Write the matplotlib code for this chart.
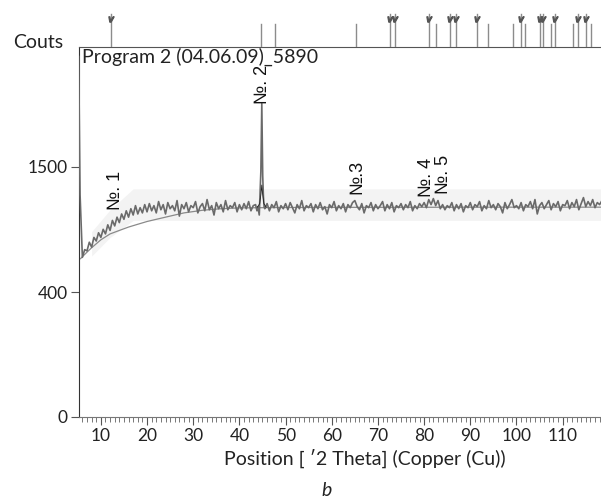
import numpy as np
import matplotlib
matplotlib.use('Agg')
import matplotlib.pyplot as plt

plt.rcParams['font.family'] = ['Lato', 'DejaVu Sans']

spike_x = [5.2, 5.3, 5.4]
spike_y = [3000, 2300, 1600]

seg1_x = np.arange(5.5, 43.51, 0.5)
seg1_y = [1200, 640, 700, 690, 760, 720, 800, 770, 840, 800,
          870, 830, 910, 860, 950, 900, 980, 930, 1010, 960,
          1040, 980, 1060, 1000, 1090, 1010, 1070, 1020, 1100, 1030,
          1110, 1040, 1090, 1020, 1130, 1050, 1100, 1010, 1120, 1060,
          1090, 1040, 1140, 990, 1100, 1060, 1120, 1030, 1090, 1070,
          1130, 1020, 1080, 1110, 1040, 1150, 1050, 1090, 1000, 1120,
          1060, 1100, 1030, 1140, 1050, 1090, 1070, 1120, 1030, 1100,
          1050, 1110, 1060, 1130, 1040, 1090, 1100]

peak_x = [43.8, 44.0, 44.3, 44.5, 44.65, 44.75, 44.85, 44.95, 45.05, 45.2, 45.35]
peak_y = [1040, 1080, 1000, 1250, 1450, 1900, 2300, 1800, 1400, 1180, 1080]

seg3_x = np.arange(45.5, 118.51, 0.5)
seg3_y = [1060, 1110, 1040, 1100, 1070, 1130, 1030, 1090, 1060, 1110,
          1050, 1120, 1070, 1020, 1100, 1060, 1140, 1040, 1090, 1070,
          1110, 1030, 1100, 1060, 1120, 1050, 1080, 1010, 1100, 1070,
          1130, 1040, 1090, 1060, 1110, 1030, 1100, 1070, 1120, 1140,
          1080, 1050, 1110, 1020, 1090, 1070, 1120, 1040, 1100, 1060,
          1090, 1130, 1040, 1100, 1060, 1120, 1030, 1090, 1070, 1110,
          1050, 1100, 1070, 1130, 1040, 1090, 1060, 1110, 1080, 1120,
          1070, 1150, 1100, 1160, 1090, 1140, 1060, 1100, 1050, 1090,
          1070, 1120, 1040, 1100, 1060, 1110, 1030, 1090, 1070, 1120,
          1050, 1100, 1080, 1130, 1040, 1090, 1060, 1140, 1070, 1100,
          1050, 1110, 1080, 1020, 1120, 1060, 1100, 1150, 1070, 1090,
          1060, 1120, 1040, 1100, 1080, 1130, 1060, 1150, 1010, 1090,
          1120, 1060, 1100, 1140, 1050, 1110, 1080, 1130, 1040, 1100,
          1090, 1140, 1060, 1120, 1080, 1150, 1050, 1110, 1170, 1080,
          1130, 1090, 1150, 1070, 1120, 1100, 1140]

# background curve
bg_x = [5.6, 6, 7, 8, 10, 12, 14, 16, 18, 20, 22, 25, 28, 32, 36, 40, 50, 60, 80, 100, 118.5]
bg_y = [630, 645, 680, 715, 780, 830, 860, 890, 915, 940, 960, 990, 1020, 1045, 1060, 1068, 1072, 1073, 1074, 1075, 1075]

# fitted profile of peak 2
prof_x = [43.9, 44.4, 44.7, 44.85, 45.0, 45.3, 45.8]
prof_y = [1075, 1110, 1220, 1300, 1220, 1110, 1075]

# reference sticks in the top strip
stick_pos = [12.2, 44.7, 47.7, 65.2, 72.6, 73.8, 81.0, 82.6, 85.5, 87.0, 91.4, 93.8,
             99.3, 101.0, 101.9, 105.1, 105.8, 107.4, 108.4, 112.2, 113.4, 115.0, 116.2]
stick_tall = [1, 0, 0, 0, 1, 1, 1, 0, 1, 1, 1, 0,
              0, 1, 0, 1, 1, 0, 1, 0, 1, 1, 0]

# peak labels
lab_text = ['№. 1', '№. 2', '№.3', '№. 4', '№. 5']
lab_x = [13.1, 45.1, 65.5, 80.5, 84.1]
lab_y = [1050, 2300, 1210, 1175, 1210]

yticks = [0, 400, 1500]
xticks = [10, 20, 30, 40, 50, 60, 70, 80, 90, 100, 110]

two_theta = np.concatenate([spike_x, seg1_x, peak_x, seg3_x])
counts = np.concatenate([spike_y, seg1_y, peak_y, seg3_y])

p = 0.528
fwd = lambda v: np.sign(v) * np.abs(v) ** p
inv = lambda v: np.sign(v) * np.abs(v) ** (1 / p)

fig = plt.figure(figsize=(6.01, 4.99), dpi=100)
ax = fig.add_axes([0.131, 0.165, 0.869, 0.740])
ax.set_yscale('function', functions=(fwd, inv))
ax.set_xlim(5.21, 118.3)
ax.set_ylim(0, 3145)

# faint shading behind the data
ax.fill_between([8, 12, 17, 118.3], [650, 800, 950, 950], [850, 1050, 1260, 1260],
                color='#f3f3f3', lw=0, zorder=0)
ax.plot(bg_x, bg_y, color='#8a8a8a', lw=0.9, zorder=2)
ax.plot(two_theta, counts, color='#6a6a6a', lw=1.2, zorder=3)
ax.plot(prof_x, prof_y, color='#222222', lw=0.6, zorder=4)

for t, x, y in zip(lab_text, lab_x, lab_y):
    ax.text(x, y, t, rotation=90, ha='center', va='bottom', fontsize=13,
            family=['Liberation Sans', 'DejaVu Sans'], color='#111111')

ax.text(0.006, 0.998, 'Program 2 (04.06.09)_5890', transform=ax.transAxes,
        ha='left', va='top', fontsize=14, color='#222222')

ax.set_xticks(xticks)
ax.set_xticks(np.arange(6, 119, 1), minor=True)
ax.set_yticks(yticks)
ax.set_yticklabels([str(v) for v in yticks])
ax.yaxis.set_minor_locator(matplotlib.ticker.NullLocator())
ax.tick_params(axis='both', which='major', labelsize=12.5, length=6, width=0.8,
               color='#555555', labelcolor='#222222', pad=2)
ax.tick_params(axis='x', which='minor', length=3.5, width=0.7, color='#777777')

ax.spines['right'].set_visible(False)
ax.spines['top'].set_color('#555555')
ax.spines['left'].set_color('#333333')
ax.spines['bottom'].set_color('#777777')

ax.set_xlabel('Position [ ′2 Theta] (Copper (Cu))', fontsize=14, color='#222222')
ax.xaxis.set_label_coords((364.5 - 78.7) / 522.3, -0.088)

# top strip with stick pattern
axt = fig.add_axes([0.131, 0.905, 0.869, 0.0747], sharex=ax)
axt.set_ylim(0, 1)
axt.axis('off')
for x, tall in zip(stick_pos, stick_tall):
    h = 0.89 if tall else 0.64
    axt.plot([x, x], [0, h], color='#8c8c8c', lw=1.0)
    if tall:
        axt.plot([x], [h - 0.12], marker=r'$v$', ms=3.8, color='#555555')

fig.text(13 / 601, 1 - 43 / 499, 'Couts', ha='left', va='center', fontsize=14, color='#222222')
fig.text(327 / 601, 1 - 490.7 / 499, 'b', ha='center', va='center', fontsize=14,
         style='italic', color='#222222')

fig.savefig('out.png', dpi=100)
